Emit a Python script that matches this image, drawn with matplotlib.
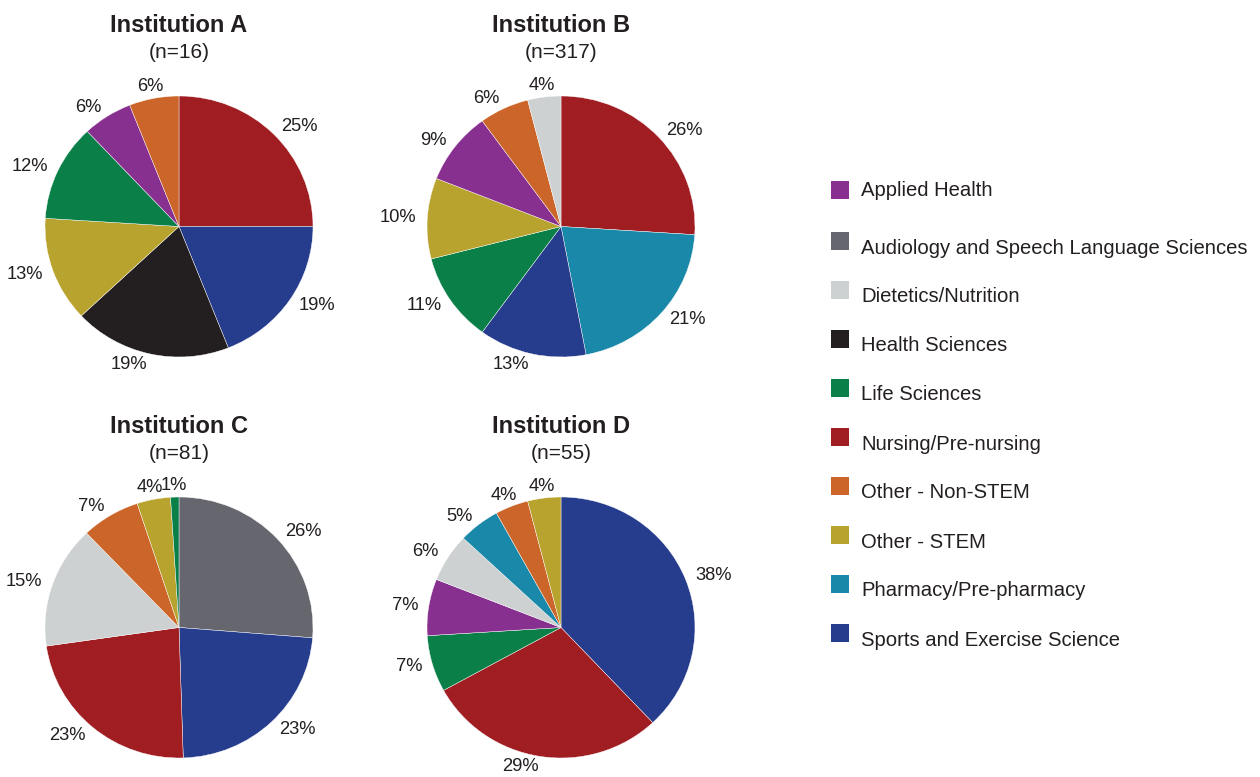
import numpy as np
import matplotlib
matplotlib.use("Agg")
import matplotlib.pyplot as plt
from matplotlib.patches import Rectangle

plt.rcParams['font.family'] = ['Liberation Sans', 'DejaVu Sans']

# categories (legend order) and colours
categories = ['Applied Health', 'Audiology and Speech Language Sciences',
              'Dietetics/Nutrition', 'Health Sciences', 'Life Sciences',
              'Nursing/Pre-nursing', 'Other - Non-STEM', 'Other - STEM',
              'Pharmacy/Pre-pharmacy', 'Sports and Exercise Science']
colors = {
    'Applied Health': '#88308F',
    'Audiology and Speech Language Sciences': '#66666F',
    'Dietetics/Nutrition': '#CDD1D1',
    'Health Sciences': '#231F20',
    'Life Sciences': '#0A8048',
    'Nursing/Pre-nursing': '#A01D22',
    'Other - Non-STEM': '#CC6529',
    'Other - STEM': '#B8A32E',
    'Pharmacy/Pre-pharmacy': '#1A88A8',
    'Sports and Exercise Science': '#263C8C',
}

# slices, clockwise from 12 o'clock
a_cats = ['Nursing/Pre-nursing', 'Sports and Exercise Science', 'Health Sciences',
          'Other - STEM', 'Life Sciences', 'Applied Health', 'Other - Non-STEM']
a_pct = [25, 19, 19, 13, 12, 6, 6]

b_cats = ['Nursing/Pre-nursing', 'Pharmacy/Pre-pharmacy', 'Sports and Exercise Science',
          'Life Sciences', 'Other - STEM', 'Applied Health', 'Other - Non-STEM',
          'Dietetics/Nutrition']
b_pct = [26, 21, 13, 11, 10, 9, 6, 4]

c_cats = ['Audiology and Speech Language Sciences', 'Sports and Exercise Science',
          'Nursing/Pre-nursing', 'Dietetics/Nutrition', 'Other - Non-STEM',
          'Other - STEM', 'Life Sciences']
c_pct = [26, 23, 23, 15, 7, 4, 1]

d_cats = ['Sports and Exercise Science', 'Nursing/Pre-nursing', 'Life Sciences',
          'Applied Health', 'Dietetics/Nutrition', 'Pharmacy/Pre-pharmacy',
          'Other - Non-STEM', 'Other - STEM']
d_pct = [38, 29, 7, 7, 6, 5, 4, 4]

titles = ['Institution A', 'Institution B', 'Institution C', 'Institution D']
n_labels = ['(n=16)', '(n=317)', '(n=81)', '(n=55)']

W, H = 1260, 777
fig = plt.figure(figsize=(W / 100, H / 100), dpi=100)

RX, RY = 134, 130.5
centers = [(179, 226.5), (561, 226.5), (179, 627.5), (561, 627.5)]
data = [(a_cats, a_pct), (b_cats, b_pct), (c_cats, c_pct), (d_cats, d_pct)]

for (cx, cy), (cats, pct), title, nl in zip(centers, data, titles, n_labels):
    ax = fig.add_axes([(cx - RX) / W, (H - cy - RY) / H, 2 * RX / W, 2 * RY / H])
    wedges, texts = ax.pie(pct, colors=[colors[c] for c in cats],
                           labels=[f'{p}%' for p in pct],
                           startangle=90, counterclock=False, labeldistance=1.08,
                           wedgeprops=dict(edgecolor='white', linewidth=0.3),
                           textprops=dict(fontsize=13.2, color='#231F20'))
    # small slices near the top get centred labels
    for w, t in zip(wedges, texts):
        ang = np.deg2rad((w.theta1 + w.theta2) / 2)
        if abs(np.cos(ang)) < 0.4 and np.sin(ang) > 0:
            t.set_ha('center')
            t.set_position((1.15 * np.cos(ang), 1.09 * np.sin(ang)))
    ax.set_xlim(-1, 1)
    ax.set_ylim(-1, 1)
    ax.set_aspect('auto')
    ax.axis('off')
    fig.text(cx / W, 1 - (cy - 201) / H, title, ha='center', va='center',
             fontsize=17, fontweight='bold', color='#231F20')
    fig.text(cx / W, 1 - (cy - 174) / H, nl, ha='center', va='center',
             fontsize=15, color='#231F20')

# legend drawn by hand
leg_y = [191, 248, 297, 346, 395, 444, 493, 542, 591, 640]
sq_off = [-1, -7, -7, -7, -7, -7, -7, -7, -7, -7]
for cat, y, off in zip(categories, leg_y, sq_off):
    sy = y + off
    fig.patches.append(Rectangle((831 / W, 1 - (sy + 9) / H), 18 / W, 18 / H,
                                 transform=fig.transFigure, facecolor=colors[cat],
                                 edgecolor='none'))
    fig.text(861 / W, 1 - y / H, cat, ha='left', va='center', fontsize=14.6,
             color='#231F20')

fig.savefig('out.png', dpi=100)
